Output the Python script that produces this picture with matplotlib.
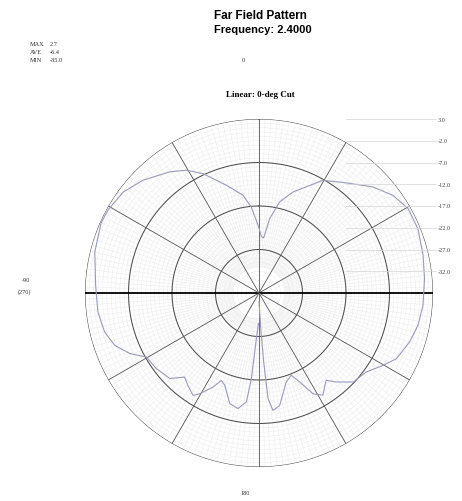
import numpy as np
import matplotlib
matplotlib.use('Agg')
import matplotlib.pyplot as plt

# Far field pattern, 0-deg cut (angle in deg clockwise from top, gain in dB)
ang_right = [4.8, 8.2, 12.8, 18.6, 29.6, 38.4, 47.1, 53.9, 60.5, 68.0, 77.0, 85.0,
             94.3, 101.5, 108.0, 115.6, 120.3, 126.4, 133.4, 139.0, 142.4, 148.0,
             151.8, 155.4, 158.6, 163.0, 169.6, 173.2, 175.1, 176.1, 177.0, 180.0]
db_right = [-24.3, -19.7, -15.5, -12.5, -7.2, -4.7, -1.2, 1.1, 2.4, 2.4, 1.7, 1.2,
            0.8, 0.3, -0.6, -2.0, -4.0, -6.4, -7.2, -9.9, -11.7, -9.3,
            -10.7, -14.5, -16.7, -15.6, -10.7, -9.8, -12.6, -21.1, -28.0, -35.0]
ang_left = [-179.0, -176.7, -174.9, -173.4, -169.7, -165.2, -159.6, -156.7, -153.9,
            -149.5, -147.2, -142.4, -138.5, -133.8, -126.4, -119.6, -115.1, -109.9,
            -104.2, -96.7, -87.3, -76.0, -66.2, -61.1, -53.4, -45.8, -36.4, -30.6,
            -25.1, -16.9, -9.3, -5.1, -0.8, 2.5]
db_left = [-30.0, -26.5, -17.2, -11.8, -10.0, -10.7, -14.4, -15.1, -12.9,
           -10.1, -9.0, -10.2, -11.2, -8.6, -7.7, -7.2, -4.2, -1.7,
           -0.4, 0.3, 0.6, 1.9, 2.7, 2.6, 1.9, 0.2, -2.4, -4.2,
           -6.7, -11.1, -14.2, -17.2, -21.4, -24.0]

r_min, r_max = -37, 3
scale_labels = ['3.0', '-2.0', '-7.0', '-12.0', '-17.0', '-22.0', '-27.0', '-32.0']
stats_names = ['MAX', 'AVE', 'MIN']
stats_vals = ['2.7', '-6.4', '-35.0']

W, H = 462, 502
fig = plt.figure(figsize=(W/100, H/100), dpi=100)
cx, cy, R = 259, 294, 174

ax = fig.add_axes([(cx-R)/W, (H-cy-R)/H, 2*R/W, 2*R/H], polar=True)
ax.set_theta_zero_location('N')
ax.set_theta_direction(-1)
ax.set_ylim(r_min, r_max)
ax.grid(False)
ax.set_xticks([])
ax.set_yticks([])
ax.spines['polar'].set_visible(False)
ax.set_facecolor('none')

full = np.linspace(0, 2*np.pi, 721)
# fine grid
for r in np.arange(r_min+1, r_max, 1.0):
    ax.plot(full, np.full_like(full, r), color='#ebebeb', lw=0.35, zorder=1)
for a in range(0, 360, 2):
    ax.plot([np.radians(a)]*2, [r_min+6, r_max], color='#ebebeb', lw=0.35, zorder=1)

# major rings and outer circle
for r in [-27, -17, -7, 3]:
    ax.plot(full, np.full_like(full, r), color='#505050', lw=0.75, zorder=2)

# spokes every 30 deg
for a in range(0, 180, 30):
    t = np.radians(a)
    lw = 1.3 if a == 90 else 0.6
    col = 'black' if a == 90 else '#555555'
    ax.plot([t, t], [r_max, r_min], color=col, lw=lw, zorder=3)
    ax.plot([t+np.pi, t+np.pi], [r_min, r_max], color=col, lw=lw, zorder=3)

# pattern curve
th = np.radians(ang_left + ang_right)
gain = np.array(db_left + db_right)
ax.plot(th, gain, color='#9a9abc', lw=0.8, zorder=4)

# scale lines and labels on the right
for i, lab in enumerate(scale_labels):
    y = cy - R + i*R/8
    fig.add_artist(plt.Line2D([(cx+0.5*R)/W, 436/W], [1-y/H, 1-y/H],
                              color='#d5d5d5', lw=0.5))
    fig.text(438/W, 1-y/H, lab, fontsize=4.5, family='Liberation Serif',
             va='center', ha='left', color='#444444')

# titles
fig.text(260/W, 1-16/H, 'Far Field Pattern', ha='center', va='center',
         fontsize=8.5, fontweight='bold', family='Liberation Sans')
fig.text(263/W, 1-30/H, 'Frequency: 2.4000', ha='center', va='center',
         fontsize=8, fontweight='bold', family='Liberation Sans')
fig.text(260/W, 1-95/H, 'Linear: 0-deg Cut', ha='center', va='center',
         fontsize=6.5, fontweight='bold', family='Liberation Serif')

for i in range(3):
    fig.text(30/W, 1-(45+8*i)/H, stats_names[i], fontsize=4.5,
             family='Liberation Serif', va='center', color='#333333')
    fig.text(50/W, 1-(45+8*i)/H, stats_vals[i], fontsize=4.5,
             family='Liberation Serif', va='center', color='#333333')

fig.text(243/W, 1-60/H, '0', fontsize=4.5, family='Liberation Serif',
         ha='center', va='center', color='#333333')
fig.text(245/W, 1-494/H, '180', fontsize=4.5, family='Liberation Serif',
         ha='center', va='center', color='#333333')
fig.text(26/W, 1-281/H, '-90', fontsize=4.5, family='Liberation Serif',
         ha='center', va='center', color='#333333')
fig.text(24/W, 1-292/H, '(270)', fontsize=4.5, family='Liberation Serif',
         ha='center', va='center', color='#333333')

fig.savefig('out.png', dpi=100, facecolor='white')
